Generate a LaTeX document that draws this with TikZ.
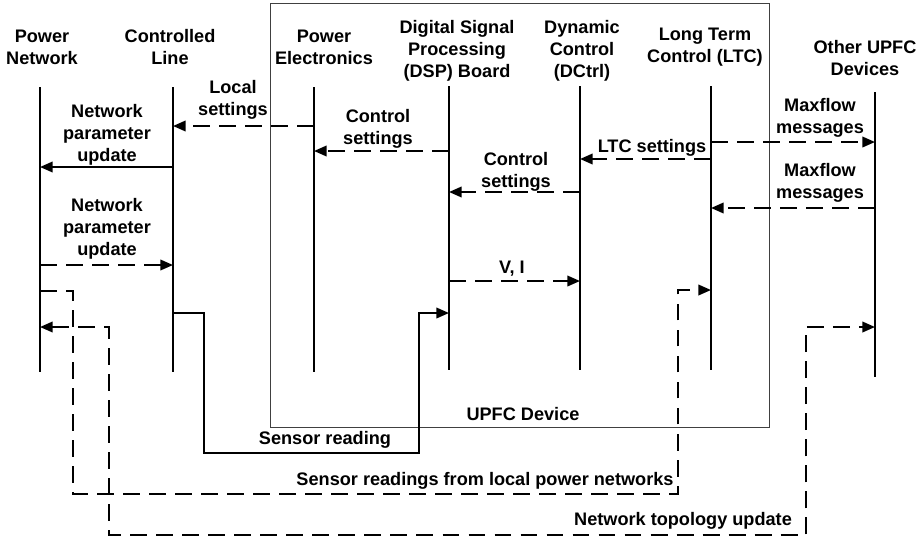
\documentclass[tikz,border=0pt]{standalone}
\usepackage{fontspec}
\setmainfont{Liberation Sans}
\usetikzlibrary{arrows.meta}

\begin{document}
\begin{tikzpicture}[x=0.025cm, y=-0.025cm,
  font=\fontsize{12.9}{15.6}\selectfont\bfseries,
  >={Triangle[length=9pt,width=7.5pt]},
  lbl/.style={align=center, inner sep=0pt},
  life/.style={line width=1.4pt},
  msg/.style={line width=1.4pt, ->},
  dsh/.style={dash pattern=on 12pt off 6.5pt}]

\useasboundingbox (0,0) rectangle (921,541);

% UPFC box
\draw[black!75, line width=0.7pt] (270,3) rectangle (769,427);
\node[lbl] (upfc) at (523,414) {UPFC Device};

% Participants
\node[lbl] (pn) at (42,47) {Power\\Network};
\node[lbl] (cl) at (170,47) {Controlled\\Line};
\node[lbl] (pe) at (324,47) {Power\\Electronics};
\node[lbl] (dsp) at (457,51) {Digital Signal\\Processing\\(DSP) Board};
\node[lbl] (dc) at (582,51) {Dynamic\\Control\\(DCtrl)};
\node[lbl] (ltc) at (705,47) {Long Term\\Control (LTC)};
\node[lbl] (oth) at (865,58) {Other UPFC\\Devices};

% Lifelines
\coordinate (pnl) at (40,87);
\coordinate (cll) at (173,87);
\coordinate (pel) at (314,87);
\coordinate (dspl) at (449,86);
\coordinate (dcl) at (580,86);
\coordinate (ltcl) at (711,86);
\coordinate (othl) at (875,92);
\draw[life] (pnl) -- (pnl |- 0,372);
\draw[life] (cll) -- (cll |- 0,372);
\draw[life] (pel) -- (pel |- 0,372);
\draw[life] (dspl) -- (dspl |- 0,370);
\draw[life] (dcl) -- (dcl |- 0,370);
\draw[life] (ltcl) -- (ltcl |- 0,370);
\draw[life] (othl) -- (othl |- 0,377);

% Messages
\draw[msg, dsh] (pel |- 0,126) -- (cll |- 0,126);
\node[lbl] (m1) at (233,100) {Local\\settings};
\draw[msg] (cll |- 0,167) -- (pnl |- 0,167);
\node[lbl] (m2) at (107,135) {Network\\parameter\\update};
\draw[msg, dsh] (dspl |- 0,151) -- (pel |- 0,151);
\node[lbl] (m3) at (378,129) {Control\\settings};
\draw[msg, dsh] (ltcl |- 0,142) -- (othl |- 0,142);
\node[lbl] (m4) at (820,118) {Maxflow\\messages};
\draw[msg, dsh] (ltcl |- 0,159) -- (dcl |- 0,159);
\node[lbl] (m5) at (652,148) {LTC settings};
\draw[msg, dsh] (dcl |- 0,192) -- (dspl |- 0,192);
\node[lbl] (m6) at (516,172) {Control\\settings};
\draw[msg, dsh] (othl |- 0,208) -- (ltcl |- 0,208);
\node[lbl] (m7) at (820,183) {Maxflow\\messages};
\draw[msg, dsh] (pnl |- 0,265) -- (cll |- 0,265);
\node[lbl] (m8) at (107,229) {Network\\parameter\\update};
\draw[msg, dsh] (dspl |- 0,281) -- (dcl |- 0,281);
\node[lbl] (m9) at (512,269) {V, I};

% Sensor paths
\draw[msg] (cll |- 0,313) -| (204,453) -| (419,313) -- (dspl |- 0,313);
\node[lbl] (m10) at (325,440) {Sensor reading};
\draw[msg, dsh] (pnl |- 0,291) -| (73,494) -| (678,290) -- (ltcl |- 0,290);
\node[lbl] (m11) at (485,481) {Sensor readings from local power networks};
\draw[msg, dsh, <->] (pnl |- 0,327) -| (109,535) -| (806,327) -- (othl |- 0,327);
\node[lbl] (m12) at (683,521) {Network topology update};

\end{tikzpicture}
\end{document}
